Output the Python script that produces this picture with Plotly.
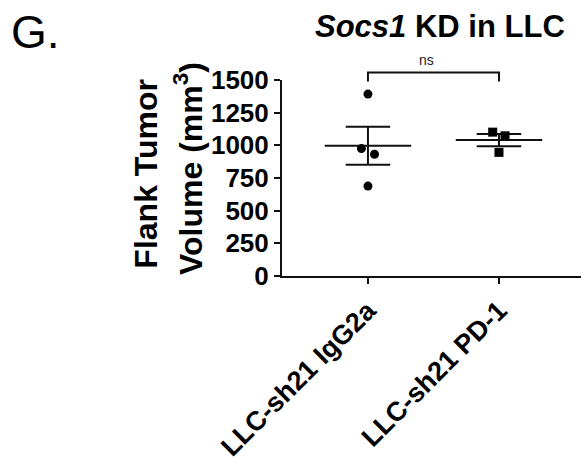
import numpy as np
import plotly.graph_objects as go

# ---- data ----
categories = ["LLC-sh21 IgG2a", "LLC-sh21 PD-1"]
igg2a_values = [1392, 975, 932, 688]
pd1_values = [1101, 1073, 946]
y_ticks = [0, 250, 500, 750, 1000, 1250, 1500]
title_text = "<b><i>Socs1</i> KD in LLC</b>"
sig_label = "ns"

# ---- styling / positions (not data) ----
igg2a_jitter = [0.0, -0.05, 0.05, 0.0]
pd1_jitter = [-0.048, 0.046, 0.0]
FONT = "Liberation Sans, Arial, sans-serif"
INK = "#111111"
MEAN_HW = 0.33
CAP_HW = 0.17

fig = go.Figure()

groups = [(0, igg2a_values, igg2a_jitter, "circle"), (1, pd1_values, pd1_jitter, "square")]
for xi, vals, jit, sym in groups:
    v = np.array(vals, dtype=float)
    m = v.mean()
    sem = v.std(ddof=1) / np.sqrt(len(v))
    fig.add_trace(go.Scatter(x=[xi - MEAN_HW, xi + MEAN_HW], y=[m, m], mode="lines",
                             line=dict(color=INK, width=2), showlegend=False, hoverinfo="skip"))
    fig.add_trace(go.Scatter(
        x=[xi - CAP_HW, xi + CAP_HW, None, xi - CAP_HW, xi + CAP_HW, None, xi, xi],
        y=[m + sem, m + sem, None, m - sem, m - sem, None, m - sem, m + sem],
        mode="lines", line=dict(color=INK, width=2), showlegend=False, hoverinfo="skip"))
    fig.add_trace(go.Scatter(x=[xi + j for j in jit], y=vals, mode="markers",
                             marker=dict(symbol=sym, size=9, color="black"),
                             showlegend=False, cliponaxis=False))

# significance bracket
fig.add_shape(type="path", xref="x", yref="paper",
              path="M 0 0.992 L 0 1.038 L 1 1.038 L 1 0.992",
              line=dict(color=INK, width=2))
fig.add_annotation(x=0.45, xref="x", y=1.103, yref="paper", text=sig_label, showarrow=False,
                   font=dict(family=FONT, size=14, color="#222"), xanchor="center", yanchor="middle")

# title and panel letter
fig.add_annotation(x=0.528, y=1.272, xref="paper", yref="paper", text=title_text, showarrow=False,
                   font=dict(family=FONT, size=31, color="black"), xanchor="center", yanchor="middle")
fig.add_annotation(x=-0.826, y=1.244, xref="paper", yref="paper", text="G.", showarrow=False,
                   font=dict(family=FONT, size=46, color="black"), xanchor="center", yanchor="middle")

# y-axis title (two lines)
fig.add_annotation(x=-0.455, y=0.522, xref="paper", yref="paper", text="<b>Flank Tumor</b>",
                   textangle=-90, showarrow=False, font=dict(family=FONT, size=32, color="black"),
                   xanchor="center", yanchor="middle")
fig.add_annotation(x=-0.314, y=0.547, xref="paper", yref="paper", text="<b>Volume (mm<sup>3</sup>)</b>",
                   textangle=-90, showarrow=False, font=dict(family=FONT, size=32, color="black"),
                   xanchor="center", yanchor="middle")

fig.update_layout(
    width=581, height=462,
    margin=dict(l=282, r=0, t=80, b=179),
    plot_bgcolor="white", paper_bgcolor="white",
    font=dict(family=FONT, color="black"),
)
fig.update_xaxes(
    range=[-0.656, 1.626], tickmode="array", tickvals=[0, 1], ticktext=[f"<b>{c}</b>" for c in categories],
    tickangle=-45, ticks="outside", ticklen=6, tickwidth=2, tickcolor=INK,
    showline=True, linecolor=INK, linewidth=2, showgrid=False, zeroline=False,
    tickfont=dict(family=FONT, size=27, color="black"),
)
fig.update_yaxes(
    range=[0, 1500], tickmode="array", tickvals=y_ticks, ticktext=[f"<b>{t}</b>" for t in y_ticks],
    ticks="outside", ticklen=6, tickwidth=2, tickcolor=INK,
    showline=True, linecolor=INK, linewidth=2, showgrid=False, zeroline=False,
    tickfont=dict(family=FONT, size=26, color="black"),
)

fig.write_html("out.html", config={"displayModeBar": False},
               post_script="document.body.style.margin='0';document.body.style.overflow='hidden';")
